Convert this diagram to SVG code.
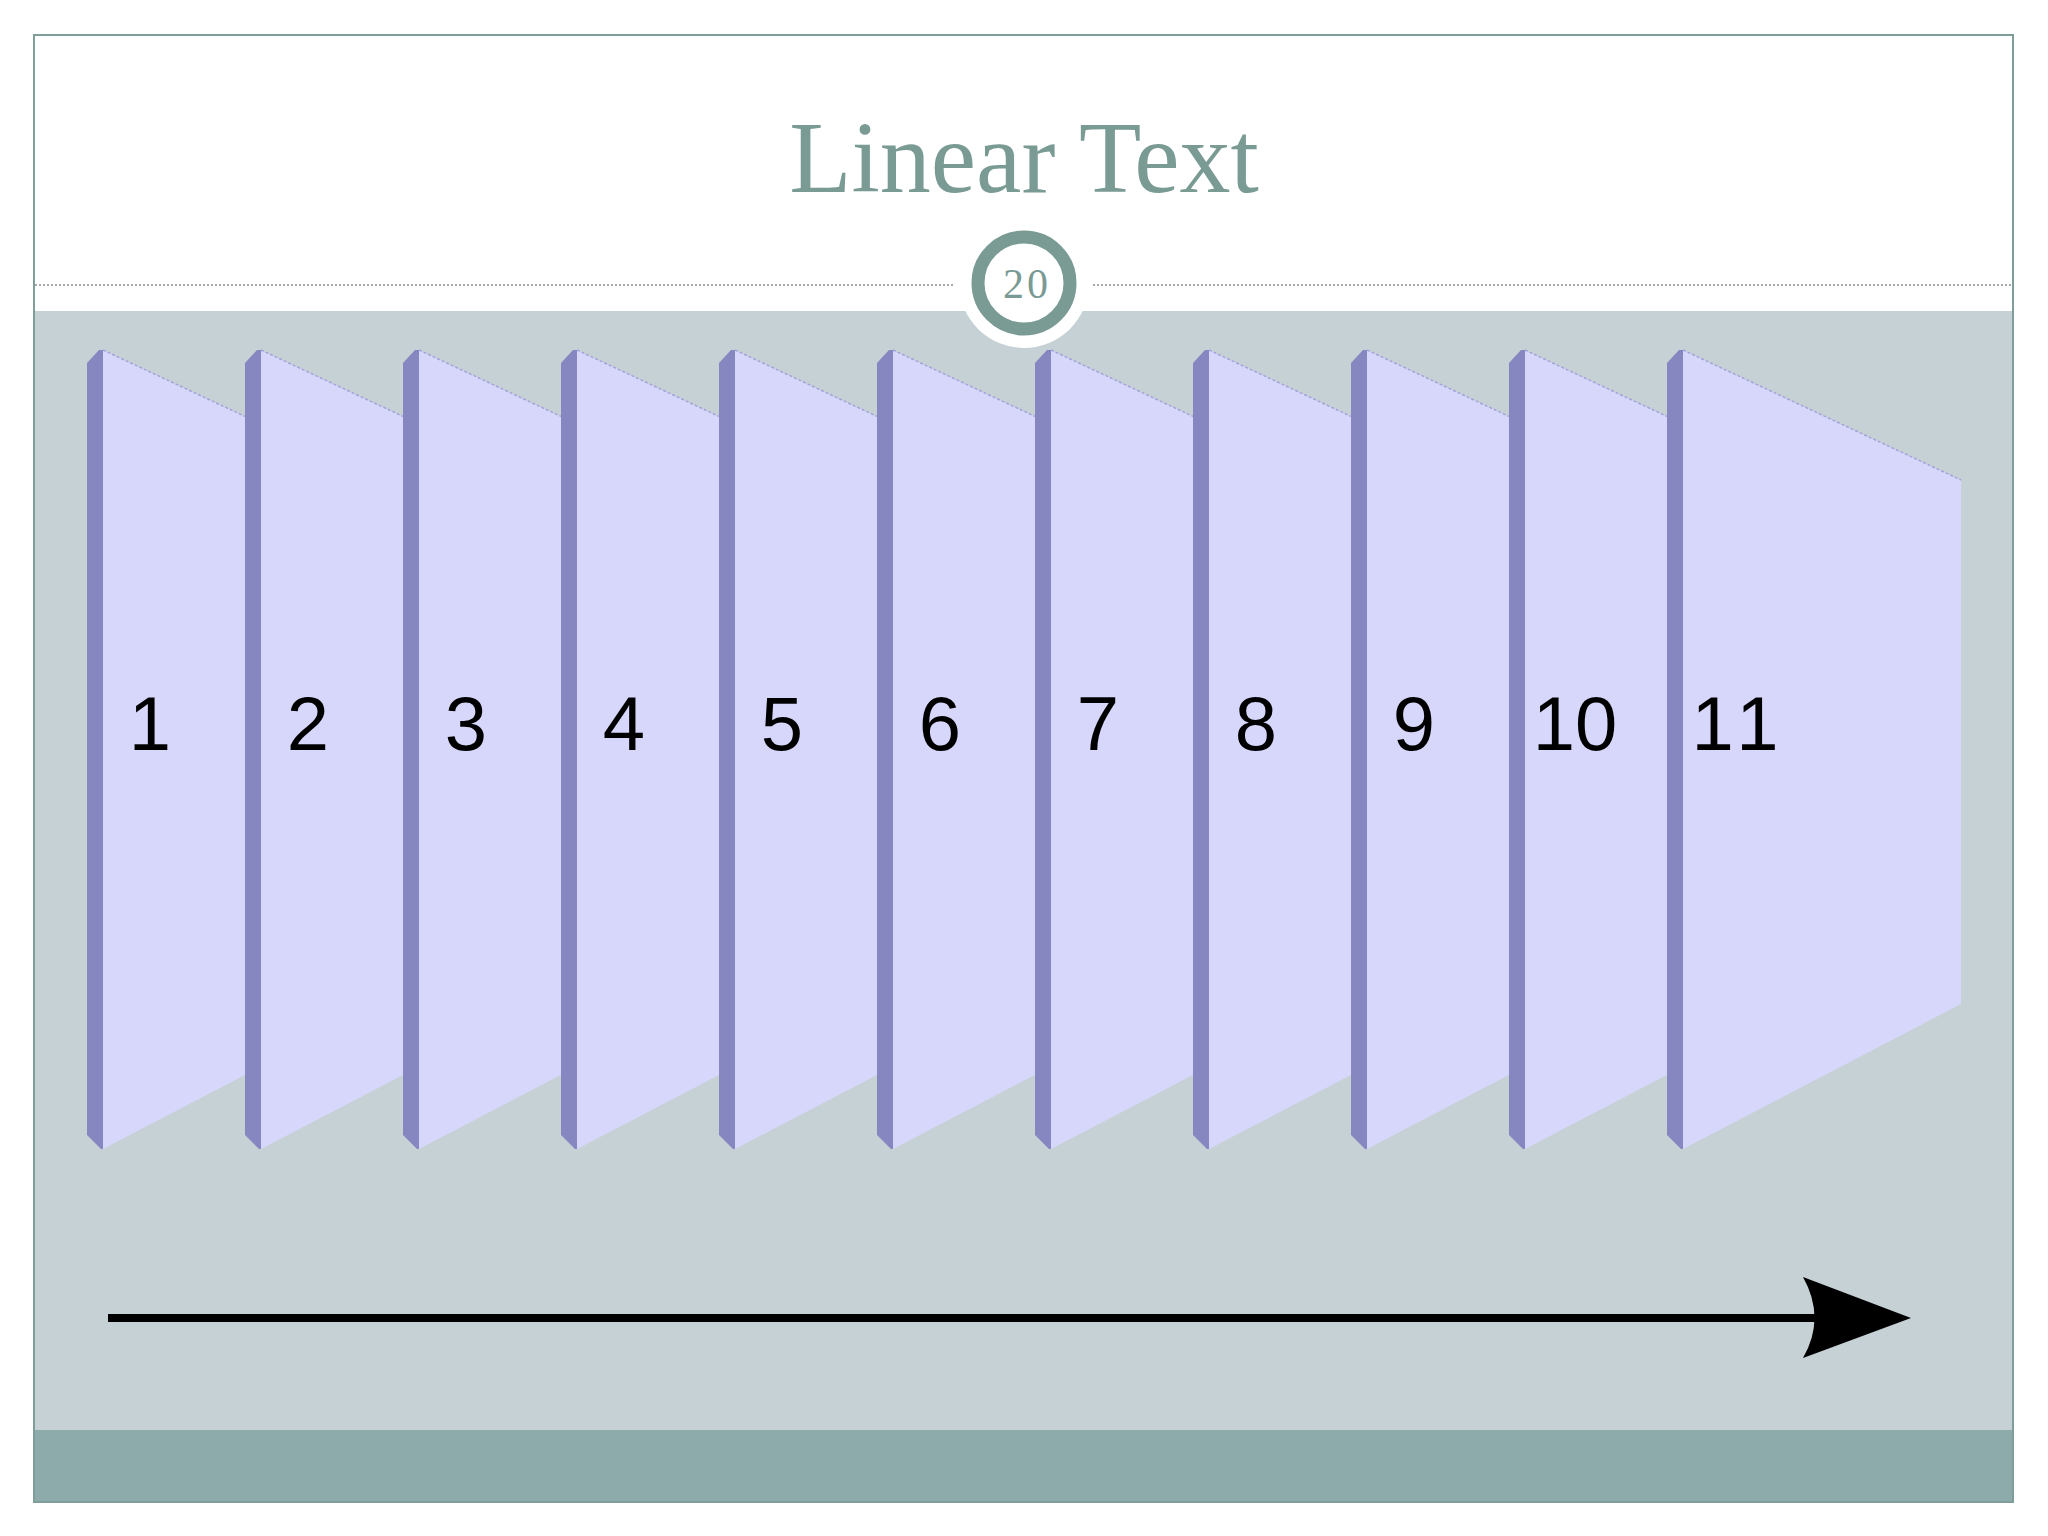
<svg xmlns="http://www.w3.org/2000/svg" xmlns:xlink="http://www.w3.org/1999/xlink" width="2048" height="1536" viewBox="0 0 2048 1536">
<style>
.face{fill:#d7d7fb}
.bar{fill:#8686c0}
.edge{fill:none;stroke:#a3a3da;stroke-width:1.5;stroke-dasharray:3 2}
.num{font-family:"Liberation Sans","Open Sans",sans-serif;font-size:76px;fill:#000;text-anchor:middle}
.dot{stroke:#8c8c8c;stroke-width:1.5;stroke-dasharray:2 2}
</style>
<defs>
<g id="pnl">
<polygon class="face" points="16,0 294,130 294,654 16,799"/>
<polyline class="edge" points="16,0 294,130"/>
<polygon class="bar" points="0,13 12,0 16,0 16,799 14,799 0,785"/>
</g>
</defs>
<rect x="0" y="0" width="2048" height="1536" fill="#ffffff"/>
<rect x="34" y="311" width="1979" height="1119" fill="#c6d1d5"/>
<rect x="34" y="1430" width="1979" height="72" fill="#8eabac"/>
<rect x="34" y="35" width="1979" height="1467" fill="none" stroke="#7f9e99" stroke-width="2"/>
<line class="dot" x1="35" y1="285" x2="955" y2="285"/>
<line class="dot" x1="1093" y1="285" x2="2012" y2="285"/>
<circle cx="1024" cy="283" r="65" fill="#ffffff"/>
<circle cx="1024" cy="283" r="46" fill="#ffffff" stroke="#7a9a94" stroke-width="13"/>
<text x="1027" y="298" font-family="Liberation Serif,serif" font-size="42" fill="#7a9a94" text-anchor="middle" letter-spacing="3">20</text>
<text x="1024" y="192" font-family="Liberation Serif,serif" font-size="102" fill="#7a9a94" text-anchor="middle">Linear Text</text>
<g id="p1" transform="translate(87,350)"><use xlink:href="#pnl"/><text class="num" x="63" y="400">1</text></g>
<g id="p2" transform="translate(245,350)"><use xlink:href="#pnl"/><text class="num" x="63" y="400">2</text></g>
<g id="p3" transform="translate(403,350)"><use xlink:href="#pnl"/><text class="num" x="63" y="400">3</text></g>
<g id="p4" transform="translate(561,350)"><use xlink:href="#pnl"/><text class="num" x="63" y="400">4</text></g>
<g id="p5" transform="translate(719,350)"><use xlink:href="#pnl"/><text class="num" x="63" y="400">5</text></g>
<g id="p6" transform="translate(877,350)"><use xlink:href="#pnl"/><text class="num" x="63" y="400">6</text></g>
<g id="p7" transform="translate(1035,350)"><use xlink:href="#pnl"/><text class="num" x="63" y="400">7</text></g>
<g id="p8" transform="translate(1193,350)"><use xlink:href="#pnl"/><text class="num" x="63" y="400">8</text></g>
<g id="p9" transform="translate(1351,350)"><use xlink:href="#pnl"/><text class="num" x="63" y="400">9</text></g>
<g id="p10" transform="translate(1509,350)"><use xlink:href="#pnl"/><text class="num" x="66" y="400">10</text></g>
<g id="p11" transform="translate(1667,350)"><use xlink:href="#pnl"/><text class="num" x="72" y="400" letter-spacing="8">11</text></g>
<g id="connectors">
<line x1="108" y1="1318" x2="1815" y2="1318" stroke="#000" stroke-width="8"/>
<path d="M1911,1318 L1803,1277 Q1826,1318 1803,1358 Z" fill="#000"/>
</g>
</svg>
